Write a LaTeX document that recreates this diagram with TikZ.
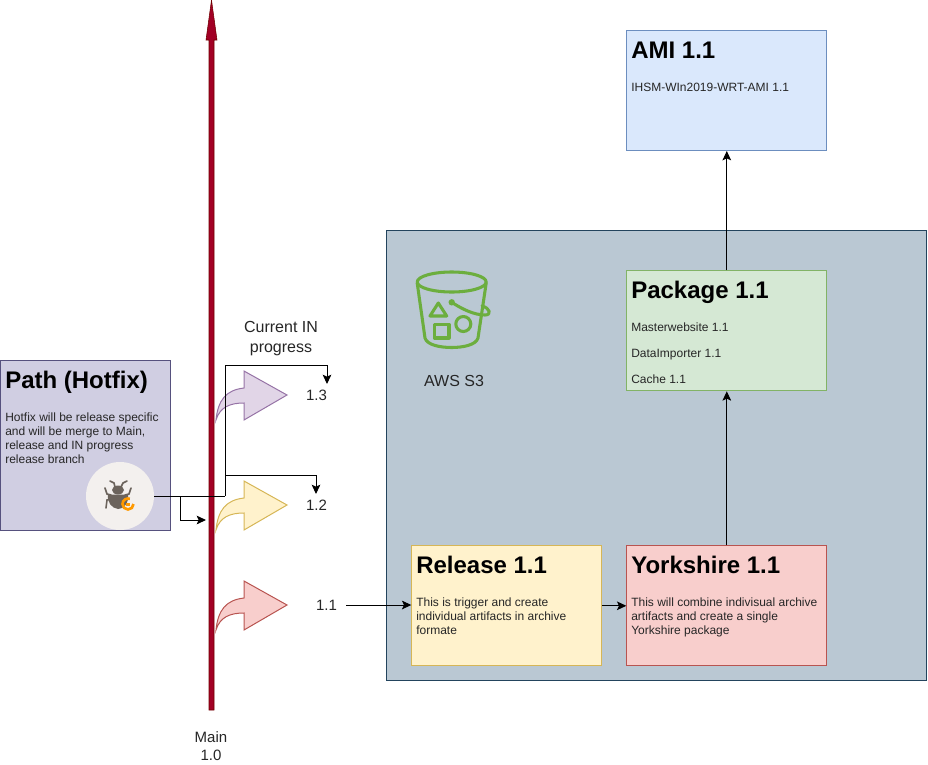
\documentclass[tikz,border=0pt]{standalone}
\usepackage{fontspec}
\setmainfont{Liberation Sans}
\usetikzlibrary{arrows.meta,calc}
\definecolor{txt}{HTML}{262626}
\definecolor{s3green}{HTML}{6CAE3E}
\definecolor{buggray}{HTML}{6B635C}
\definecolor{mainred}{HTML}{A20025}
\definecolor{mainedge}{HTML}{6F0000}
\definecolor{awsf}{HTML}{BAC8D3}\definecolor{awsd}{HTML}{23445D}
\definecolor{blf}{HTML}{DAE8FC}\definecolor{bld}{HTML}{6C8EBF}
\definecolor{grf}{HTML}{D5E8D4}\definecolor{grd}{HTML}{82B366}
\definecolor{yef}{HTML}{FFF2CC}\definecolor{yed}{HTML}{D6B656}
\definecolor{rdf}{HTML}{F8CECC}\definecolor{rdd}{HTML}{B85450}
\definecolor{puf}{HTML}{D0CEE2}\definecolor{pud}{HTML}{56517E}
\definecolor{vif}{HTML}{E1D5E7}\definecolor{vid}{HTML}{9673A6}
\definecolor{bugbg}{HTML}{F3F0EE}
\definecolor{orng}{HTML}{FF9900}
\tikzset{
  px/.style={x=0.75pt,y=-0.75pt},
  panel/.style 2 args={draw=#2,fill=#1,line width=0.75pt,inner sep=0pt,anchor=north west},
  ttl/.style={anchor=base west,inner sep=0pt,font=\fontsize{18}{21}\selectfont\bfseries,text=black},
  small/.style={anchor=north west,inner sep=0pt,font=\fontsize{9}{10.5}\selectfont,align=left,text=txt},
  lbl/.style={inner sep=0pt,font=\fontsize{11.25}{13.5}\selectfont,align=center,text=txt},
  lblb/.style={inner sep=0pt,font=\fontsize{12}{15}\selectfont,align=center,text=txt},
  conn/.style={draw=black,line width=0.75pt,-{Stealth[length=7pt,width=6.5pt,inset=1.5pt]}},
  plain/.style={draw=black,line width=0.75pt},
  curly/.style 2 args={fill=#1,draw=#2,line width=0.75pt,line join=miter},
  s3/.style={draw=s3green,line width=2.3pt,line cap=round,line join=round},
  bug/.style={draw=buggray,line width=1.2pt,line cap=round},
}
\newcommand{\curlyarrow}[4]{% tip x, tip y centre, fill, draw
  \path[curly={#3}{#4}] (216,#2+25) .. controls (218,#2+5) and (226,#2-5) .. (244,#2-7)
   -- (244,#2-24) -- (#1,#2) -- (244,#2+25) -- (244,#2+8)
   .. controls (230,#2+8) and (220,#2+12) .. (216,#2+25) -- cycle;}
\begin{document}
\begin{tikzpicture}[px]
\useasboundingbox (0,0) rectangle (928,764);
% panels
\node[panel={awsf}{awsd},minimum width=405pt,minimum height=337.5pt] (aws) at (386.3,230.3) {};
\node[panel={blf}{bld},minimum width=150pt,minimum height=90pt] (ami) at (626.3,30) {};
\node[panel={grf}{grd},minimum width=150pt,minimum height=90pt] (pkg) at (626.3,270.3) {};
\node[panel={yef}{yed},minimum width=142.5pt,minimum height=90pt] (rel) at (411.3,545.3) {};
\node[panel={rdf}{rdd},minimum width=150pt,minimum height=90pt] (york) at (626.3,545.3) {};
\node[panel={puf}{pud},minimum width=127.5pt,minimum height=127.5pt] (path) at (-0.2,360.3) {};
% panel texts
\node[ttl] (amit) at (631,58) {AMI 1.1};
\node[small] (amib) at (631,82.5) {IHSM-WIn2019-WRT-AMI 1.1};
\node[ttl] (pkgt) at (631,298) {Package 1.1};
\node[small] (pkg1) at (631,322.5) {Masterwebsite 1.1};
\node[small] (pkg2) at (631,348.5) {DataImporter 1.1};
\node[small] (pkg3) at (631,374.5) {Cache 1.1};
\node[ttl] (relt) at (416,573) {Release 1.1};
\node[small] (relb) at (416,598) {This is trigger and create\\individual artifacts in archive\\formate};
\node[ttl] (yorkt) at (631,573) {Yorkshire 1.1};
\node[small] (yorkb) at (631,598) {This will combine indivisual archive\\artifacts and create a single\\Yorkshire package};
\node[ttl] (patht) at (5,388) {Path (Hotfix)};
\node[small] (pathb) at (5,412.5) {Hotfix will be release specific\\and will be merge to Main,\\release and IN progress\\release branch};
% main line
\path[fill=mainred,draw=mainedge,line width=0.4pt] (209,710) -- (209,40) -- (206,40) -- (211.5,0) -- (217,40) -- (214,40) -- (214,710) -- cycle;
\node[lbl] (mainl) at (211,746) {Main\\1.0};
% curly arrows
\curlyarrow{287}{395}{vif}{vid}
\curlyarrow{287}{505}{yef}{yed}
\curlyarrow{287}{605}{rdf}{rdd}
% version labels
\node[lbl] (v3) at (316.5,395) {1.3};
\node[lbl] (v2) at (316.5,505) {1.2};
\node[lbl] (v1) at (326.5,605) {1.1};
\node[lblb] (cur) at (281,339) {Current IN\\progress};
\node[lblb] (awsl) at (454,380.5) {AWS S3};
% bug icon
\node[circle,fill=bugbg,minimum size=51pt,inner sep=0pt] (bugc) at (120,496) {};
\fill[buggray] (118,490) ellipse (6 and 4.5);
\fill[buggray] (108,494.5) -- (128,494.5) .. controls (129,503) and (124,509) .. (118,509) .. controls (112,508) and (107,503) .. (108,494.5) -- cycle;
\draw[bug] (110,481) -- (114,483) -- (115,487);
\draw[bug] (127,481) -- (123,483) -- (121,487);
\draw[bug] (105,488) -- (107,494) -- (111,495);
\draw[bug] (131,488) -- (129,494) -- (125,495);
\draw[bug] (106,508) -- (107,500) -- (111,499);
\draw[draw=orng,line width=2pt] (133.5,504) arc (0:290:5.5);
\fill[orng] (126,503) rectangle (130,506);
% S3 icon
\draw[s3] (451.7,282) ellipse (34.5 and 10);
\draw[s3] (417.2,283) -- (425,338) .. controls (427,345) and (440,347.5) .. (451.7,347.5) .. controls (463,347.5) and (476,345) .. (478,338) -- (486.2,283);
\draw[s3] (438.3,303) -- (430,316) -- (446.7,316) -- cycle;
\draw[s3] (434.3,324.5) rectangle (449,338);
\draw[s3] (463.3,324) circle (7.5);
\fill[s3green] (451.7,302.3) circle (3.2);
\draw[s3] (451.7,302.3) .. controls (462,309) and (474,315) .. (485,315) .. controls (492,315) and (490,308) .. (482,306);
% connectors
\coordinate (jn) at (225,496);
\coordinate (up3) at (225,365);
\coordinate (jn2) at (225,475);
\coordinate (t3) at (327,384);
\coordinate (t2) at (316,494);
\coordinate (fork) at (180,496);
\coordinate (mt) at (206,520);
\coordinate (v1end) at (346,605);
\draw[plain] (bugc.east) -- (jn);
\draw[conn] (jn) -- (up3) -| (t3);
\draw[conn] (jn2) -| (t2);
\draw[conn] (fork) |- (mt);
\draw[conn] (v1end) -- (v1end -| rel.west);
\draw[conn] (rel.east) -- (york.west);
\draw[conn] (york.north) -- (pkg.south);
\draw[conn] (pkg.north) -- (ami.south);
\end{tikzpicture}
\end{document}
